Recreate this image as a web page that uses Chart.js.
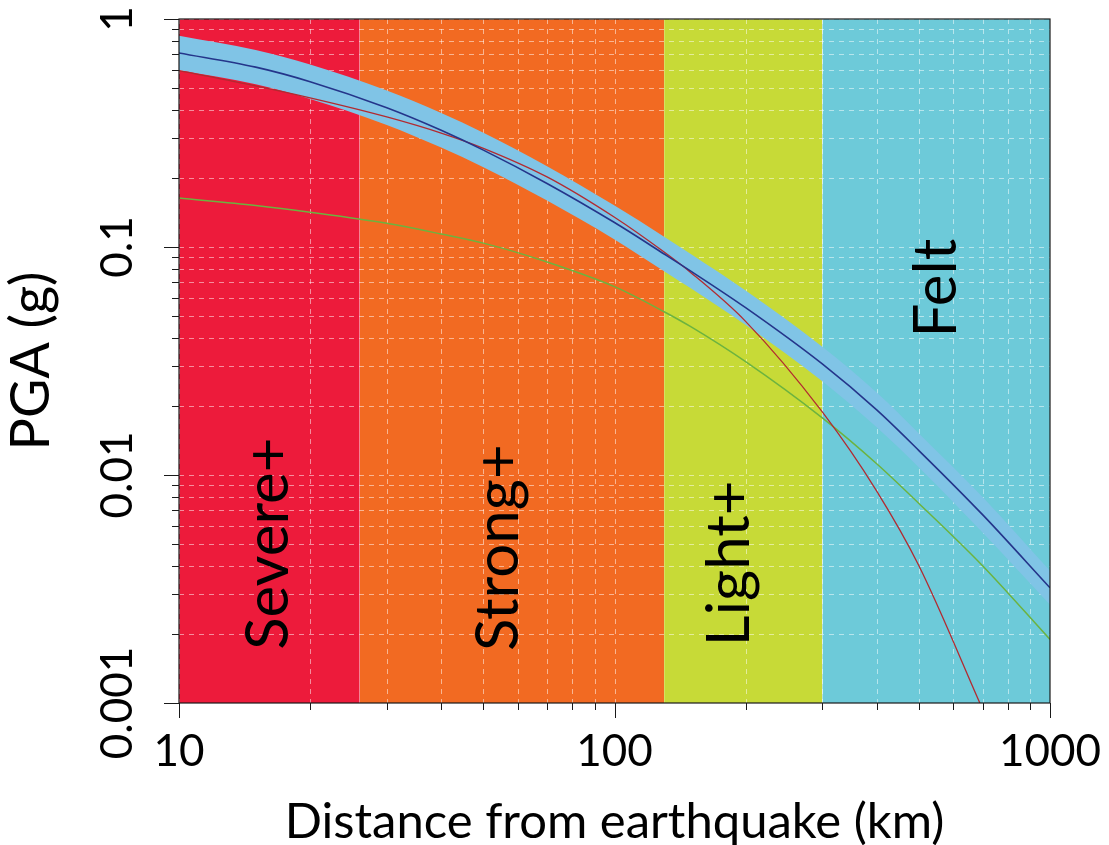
<!DOCTYPE html>
<html>
<head>
<meta charset="utf-8">
<title>PGA vs distance</title>
<script src="https://cdn.jsdelivr.net/npm/chart.js@4.4.1/dist/chart.umd.min.js"></script>
<style>
  html, body { margin: 0; padding: 0; background: #ffffff; }
  #wrap { width: 1109px; height: 845px; position: relative; }
</style>
</head>
<body>
<div id="wrap"><canvas id="c"></canvas></div>
<script>
// Distance samples (km) shared by every curve
const distanceKm = [10, 15, 20, 30, 40, 50, 70, 100, 130, 150, 200, 300, 400, 500, 700, 1000];

// Central PGA estimate (g) and its uncertainty band
const pgaCentral = [0.71, 0.615, 0.531, 0.408, 0.325, 0.266, 0.190, 0.128, 0.0932, 0.0782, 0.0542, 0.0307, 0.0193, 0.0128, 0.0067, 0.0032];
const pgaUpper   = [0.845, 0.732, 0.632, 0.486, 0.387, 0.317, 0.226, 0.152, 0.111, 0.093, 0.0645, 0.0365, 0.0230, 0.0152, 0.0080, 0.0038];
const pgaLower   = [0.597, 0.517, 0.446, 0.343, 0.273, 0.224, 0.160, 0.108, 0.0783, 0.0657, 0.0455, 0.0258, 0.0162, 0.0108, 0.0056, 0.0027];

// Two alternative attenuation relations
const pgaModelA = [0.594, 0.509, 0.451, 0.372, 0.316, 0.271, 0.203, 0.135, 0.095, 0.077, 0.0472, 0.0189, 0.0085, 0.0040, 0.00094, null];
const pgaModelB = [0.164, 0.152, 0.142, 0.127, 0.114, 0.104, 0.086, 0.067, 0.052, 0.0446, 0.0314, 0.0178, 0.0112, 0.0075, 0.0040, 0.0019];

// Shaking zones and their distance limits (km)
const zoneNames   = ['Severe+', 'Strong+', 'Light+', 'Felt'];
const zoneEdgesKm = [10, 26, 130, 300, 1000];

// Axis ticks and the ones that carry labels
const xTickValues = [10, 20, 30, 40, 50, 60, 70, 80, 90, 100, 200, 300, 400, 500, 600, 700, 800, 900, 1000];
const xTickLabels = ['10', '100', '1000'];
const yTickValues = [0.001, 0.002, 0.003, 0.004, 0.005, 0.006, 0.007, 0.008, 0.009,
                     0.01, 0.02, 0.03, 0.04, 0.05, 0.06, 0.07, 0.08, 0.09,
                     0.1, 0.2, 0.3, 0.4, 0.5, 0.6, 0.7, 0.8, 0.9, 1];
const yTickLabels = ['0.001', '0.01', '0.1', '1'];

// Styling
const FONT = 'Lato, "Open Sans", "Liberation Sans", sans-serif';
const zoneColors = ['#ED1B3B', '#F26A22', '#C7DA37', '#6DCAD9'];
const zoneLabelAt = [   // rotated zone captions: [distance km, PGA g]
  [16.1, 0.0050], [54.3, 0.0048], [184, 0.0041], [548, 0.066]
];

const xyOf = arr => distanceKm.map((d, i) => ({ x: d, y: arr[i] }));
const tickLabel = (labels, v) => labels.includes(String(v)) ? String(v) : '';
const yTop = yTickValues[yTickValues.length - 1];

const datasets = [];
zoneNames.forEach((name, i) => {
  datasets.push({
    label: name,
    isZone: true,
    data: [{ x: zoneEdgesKm[i], y: yTop }, { x: zoneEdgesKm[i + 1], y: yTop }],
    fill: 'start',
    backgroundColor: zoneColors[i],
    borderWidth: 0,
    pointRadius: 0,
    order: 4
  });
});
datasets.push(
  { label: 'Central', data: xyOf(pgaCentral), borderColor: '#24358A', borderWidth: 1.6, pointRadius: 0, fill: false, order: 1 },
  { label: 'Model A', data: xyOf(pgaModelA), borderColor: '#B22A30', borderWidth: 1.3, pointRadius: 0, fill: false, order: 1 },
  { label: 'Model B', data: xyOf(pgaModelB), borderColor: '#6CB33F', borderWidth: 1.5, pointRadius: 0, fill: false, order: 1 },
  { label: 'Upper', data: xyOf(pgaUpper), borderWidth: 0, pointRadius: 0, fill: '+1', backgroundColor: '#80C4E6', order: 3 },
  { label: 'Lower', data: xyOf(pgaLower), borderWidth: 0, pointRadius: 0, fill: false, order: 3 }
);

// Dashed white grid, painted after the zone fills and before the curves
const gridUnderCurves = {
  id: 'gridUnderCurves',
  beforeDatasetsDraw(chart) { chart.$gridDone = false; },
  beforeDatasetDraw(chart, args) {
    if (chart.$gridDone || chart.data.datasets[args.index].isZone) return;
    chart.$gridDone = true;
    const { ctx, chartArea: a, scales: { x, y } } = chart;
    ctx.save();
    ctx.beginPath();
    ctx.rect(a.left, a.top, a.right - a.left, a.bottom - a.top);
    ctx.clip();
    ctx.strokeStyle = 'rgba(255,255,255,0.5)';
    ctx.lineWidth = 1;
    ctx.setLineDash([5, 5]);
    xTickValues.forEach(v => {
      const px = Math.round(x.getPixelForValue(v)) + 0.5;
      ctx.beginPath(); ctx.moveTo(px, a.top); ctx.lineTo(px, a.bottom); ctx.stroke();
    });
    yTickValues.forEach(v => {
      const py = Math.round(y.getPixelForValue(v)) + 0.5;
      ctx.beginPath(); ctx.moveTo(a.left, py); ctx.lineTo(a.right, py); ctx.stroke();
    });
    ctx.restore();
  }
};

// Plot frame plus outward tick marks (long for decades, short otherwise)
const frameAndTicks = {
  id: 'frameAndTicks',
  afterDraw(chart) {
    const { ctx, chartArea: a, scales: { x, y } } = chart;
    ctx.save();
    ctx.strokeStyle = '#1a1a1a';
    ctx.lineWidth = 1.2;
    ctx.strokeRect(a.left, a.top, a.right - a.left, a.bottom - a.top);
    ctx.lineWidth = 1;
    xTickValues.forEach(v => {
      const px = Math.round(x.getPixelForValue(v)) + 0.5;
      const len = xTickLabels.includes(String(v)) ? 15 : 7;
      ctx.beginPath(); ctx.moveTo(px, a.bottom); ctx.lineTo(px, a.bottom + len); ctx.stroke();
    });
    yTickValues.forEach(v => {
      const py = Math.round(y.getPixelForValue(v)) + 0.5;
      const len = yTickLabels.includes(String(v)) ? 15 : 7;
      ctx.beginPath(); ctx.moveTo(a.left - len, py); ctx.lineTo(a.left, py); ctx.stroke();
    });
    ctx.restore();
  }
};

// Rotated captions inside each zone
const zoneCaptions = {
  id: 'zoneCaptions',
  afterDatasetsDraw(chart) {
    const { ctx, scales: { x, y } } = chart;
    ctx.save();
    ctx.fillStyle = '#000';
    ctx.font = '60px ' + FONT;
    ctx.textAlign = 'center';
    ctx.textBaseline = 'middle';
    zoneNames.forEach((name, i) => {
      const px = x.getPixelForValue(zoneLabelAt[i][0]);
      const py = y.getPixelForValue(zoneLabelAt[i][1]);
      ctx.save();
      ctx.translate(px, py);
      ctx.rotate(-Math.PI / 2);
      ctx.fillText(name, 0, 0);
      ctx.restore();
    });
    ctx.restore();
  }
};

function draw() {
  new Chart(document.getElementById('c'), {
    type: 'line',
    data: { datasets },
    options: {
      responsive: true,
      maintainAspectRatio: false,
      animation: false,
      layout: { padding: { top: 19, right: 59, bottom: 0, left: 0 } },
      plugins: { legend: { display: false }, tooltip: { enabled: false } },
      elements: { line: { cubicInterpolationMode: 'monotone' } },
      scales: {
        x: {
          type: 'logarithmic',
          position: 'bottom',
          min: 10,
          max: 1000,
          grid: { display: false },
          border: { display: false },
          afterBuildTicks: s => { s.ticks = xTickValues.map(v => ({ value: v })); },
          afterFit: s => { s.height = 142; s.paddingLeft = 0; s.paddingRight = 0; },
          ticks: {
            autoSkip: false, minRotation: 0, maxRotation: 0, padding: 14,
            color: '#000', font: { family: FONT, size: 44 },
            callback: v => tickLabel(xTickLabels, v)
          },
          title: {
            display: true, text: 'Distance from earthquake (km)', color: '#000',
            font: { family: FONT, size: 49, lineHeight: 0.94 }, padding: 0
          }
        },
        y: {
          type: 'logarithmic',
          position: 'left',
          min: 0.001,
          max: 1,
          grid: { display: false },
          border: { display: false },
          afterBuildTicks: s => { s.ticks = yTickValues.map(v => ({ value: v })); },
          afterFit: s => { s.width = 179; s.paddingTop = 0; s.paddingBottom = 0; },
          ticks: {
            autoSkip: false, minRotation: 90, maxRotation: 90, crossAlign: 'center', padding: -3,
            color: '#000', font: { family: FONT, size: 44 },
            callback: v => tickLabel(yTickLabels, v)
          },
          title: {
            display: true, text: 'PGA (g)', color: '#000',
            font: { family: FONT, size: 54, lineHeight: 1 }, padding: { top: 5, bottom: 0 }
          }
        }
      }
    },
    plugins: [gridUnderCurves, frameAndTicks, zoneCaptions]
  });
}

if (document.fonts && document.fonts.load) {
  Promise.all([document.fonts.load('44px Lato'), document.fonts.load('60px Lato')])
    .then(draw, draw);
} else {
  draw();
}
</script>
</body>
</html>
